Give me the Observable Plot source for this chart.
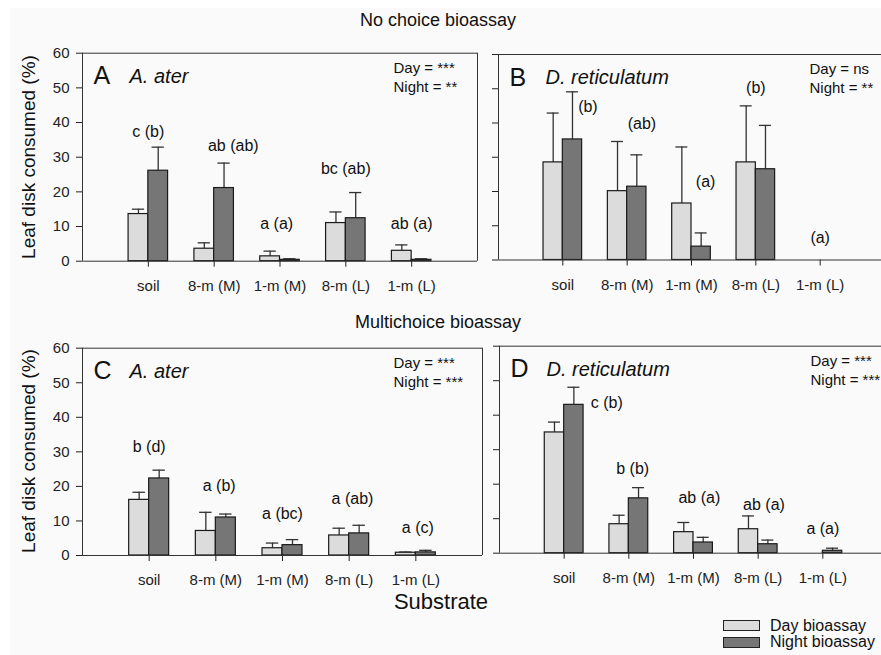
<!DOCTYPE html>
<html><head><meta charset="utf-8">
<script src="https://cdn.jsdelivr.net/npm/d3@7"></script>
<script src="https://cdn.jsdelivr.net/npm/@observablehq/plot@0.6"></script>
<style>
body{margin:0;background:#fff;font-family:"Liberation Sans",Arial,sans-serif;color:#111}
#wrap{position:relative;width:881px;height:655px;overflow:hidden;background:#fff}
#bg{position:absolute;left:10px;top:8px;right:0;bottom:0;background:#fafafa}
.layer{position:absolute;left:0;top:0;width:881px;height:655px}
.t{position:absolute;white-space:nowrap;transform:translate(-50%,-50%);line-height:1}
.yl{position:absolute;white-space:nowrap;transform:translate(-50%,-50%) rotate(-90deg);font-size:19px;line-height:1}
.sw{position:absolute;border:1px solid #222;box-sizing:border-box}
.lt{position:absolute;white-space:nowrap;font-size:16px;line-height:1;transform:translateY(-50%)}
</style></head><body>
<div id="wrap"><div id="bg"></div></div>
<script>
// ---------- data ----------
const substrates = ["soil", "8-m (M)", "1-m (M)", "8-m (L)", "1-m (L)"];
const yTicks = [0, 10, 20, 30, 40, 50, 60];
const seriesNames = ["Day bioassay", "Night bioassay"];

// Panel A: No choice, A. ater
const aDayMean   = [13.6, 3.6, 1.4, 11.0, 3.0];
const aDaySE     = [1.4, 1.7, 1.5, 3.2, 1.7];
const aNightMean = [26.1, 21.1, 0.4, 12.4, 0.4];
const aNightSE   = [6.8, 7.2, 0.3, 7.4, 0.3];
const aLetters   = ["c (b)", "ab (ab)", "a (a)", "bc (ab)", "ab (a)"];
const aLetterY   = [37.2, 33.4, 10.9, 26.7, 10.9];
const aLetterShift = [0, 0.29, -0.05, 0, 0];
const aStats = ["Day = ***", "Night = **"];

// Panel B: No choice, D. reticulatum
const bDayMean   = [28.5, 20.1, 16.5, 28.5, 0];
const bDaySE     = [14.4, 14.5, 16.5, 16.5, 0];
const bNightMean = [35.2, 21.4, 3.9, 26.5, 0];
const bNightSE   = [13.9, 9.3, 4.0, 12.8, 0];
const bLetters   = ["(b)", "(ab)", "(a)", "(b)", "(a)"];
const bLetterY   = [44.6, 39.7, 22.9, 50.4, 6.4];
const bLetterShift = [0.39, 0.23, 0.22, 0, 0];
const bStats = ["Day = ns", "Night = **"];

// Panel C: Multichoice, A. ater
const cDayMean   = [16.1, 7.1, 2.1, 5.8, 0.8];
const cDaySE     = [2.2, 5.4, 1.5, 2.1, 0.2];
const cNightMean = [22.3, 11.0, 3.0, 6.4, 0.9];
const cNightSE   = [2.4, 1.0, 1.6, 2.35, 0.6];
const cLetters   = ["b (d)", "a (b)", "a (bc)", "a (ab)", "a (c)"];
const cLetterY   = [31.4, 20.2, 12.0, 16.5, 7.9];
const cLetterShift = [0, 0.05, 0, 0.05, 0.03];
const cStats = ["Day = ***", "Night = ***"];

// Panel D: Multichoice, D. reticulatum
const dDayMean   = [35.0, 8.4, 6.1, 6.95, 0];
const dDaySE     = [3.0, 2.6, 2.8, 3.85, 0];
const dNightMean = [43.0, 15.9, 3.1, 2.6, 0.7];
const dNightSE   = [5.1, 3.1, 1.5, 1.2, 0.75];
const dLetters   = ["c (b)", "b (b)", "ab (a)", "ab (a)", "a (a)"];
const dLetterY   = [43.5, 24.3, 15.9, 14.1, 7.0];
const dLetterShift = [0.66, 0.06, 0.09, 0.09, 0];
const dStats = ["Day = ***", "Night = ***"];

// ---------- layout ----------
const W = 881, H = 655;
const colors = {day: "#dcdcdc", night: "#767676"};
const panels = [
  {id: "A", species: "A. ater", stats: aStats, dm: aDayMean, ds: aDaySE, nm: aNightMean, ns: aNightSE,
   letters: aLetters, ly: aLetterY, lsh: aLetterShift, left: 82, right: 477, top: 52.7, bottom: 260.7, yLab: true},
  {id: "B", species: "D. reticulatum", stats: bStats, dm: bDayMean, ds: bDaySE, nm: bNightMean, ns: bNightSE,
   letters: bLetters, ly: bLetterY, lsh: bLetterShift, left: 498, right: 884, top: 54, bottom: 259.5, yLab: false},
  {id: "C", species: "A. ater", stats: cStats, dm: cDayMean, ds: cDaySE, nm: cNightMean, ns: cNightSE,
   letters: cLetters, ly: cLetterY, lsh: cLetterShift, left: 82, right: 482, top: 347.7, bottom: 555, yLab: true},
  {id: "D", species: "D. reticulatum", stats: dStats, dm: dDayMean, ds: dDaySE, nm: dNightMean, ns: dNightSE,
   letters: dLetters, ly: dLetterY, lsh: dLetterShift, left: 499, right: 887, top: 345.7, bottom: 552.7, yLab: false}
];

const wrap = document.getElementById("wrap");
const BW = 0.3, CAP = 0.093;

for (const p of panels) {
  const rows = [];
  substrates.forEach((s, i) => {
    rows.push({i, series: "day", mean: p.dm[i], se: p.ds[i]});
    rows.push({i, series: "night", mean: p.nm[i], se: p.ns[i]});
  });
  const bars = rows.filter(d => d.mean > 0);
  const errs = rows.filter(d => d.se > 0);
  const cx = d => d.series === "day" ? d.i - BW / 2 : d.i + BW / 2;
  const labels = p.letters.map((t, i) => ({i, t, y: p.ly[i], sh: p.lsh[i]}));

  const chart = Plot.plot({
    width: W, height: H,
    marginLeft: p.left, marginRight: Math.max(0, W - p.right),
    marginTop: p.top, marginBottom: H - p.bottom,
    style: {background: "transparent", fontFamily: "'Liberation Sans', Arial, sans-serif", fontSize: "15px", color: "#222", overflow: "hidden"},
    x: {domain: [-1, 5], range: [p.left, p.right], ticks: [0, 1, 2, 3, 4], tickFormat: i => substrates[i], tickSize: 6, tickPadding: 13, label: null},
    y: {domain: [0, 60], ticks: yTicks, tickSize: 6, tickPadding: 7, tickFormat: p.yLab ? (d => d) : (() => ""), label: null},
    marks: [
      Plot.ruleX(errs, {x: cx, y1: d => d.mean, y2: d => d.mean + d.se, stroke: "#333", strokeWidth: 1.3}),
      Plot.ruleY(errs, {y: d => d.mean + d.se, x1: d => cx(d) - CAP, x2: d => cx(d) + CAP, stroke: "#333", strokeWidth: 1.3}),
      Plot.rect(bars, {x1: d => d.series === "day" ? d.i - BW : d.i, x2: d => d.series === "day" ? d.i : d.i + BW,
                       y1: 0, y2: d => d.mean, fill: d => colors[d.series], stroke: "#1a1a1a", strokeWidth: 1.2}),
      Plot.ruleY([0, 60], {x1: -1, x2: 5, stroke: "#333", strokeWidth: 1}),
      Plot.ruleX([-1, 5], {y1: 0, y2: 60, stroke: "#333", strokeWidth: 1}),
      Plot.text(labels, {x: d => d.i + d.sh, y: d => d.y, text: d => d.t, fontSize: 16, fill: "#111"}),
      Plot.text([p.id], {frameAnchor: "top-left", dx: 11, dy: 23, lineAnchor: "middle", textAnchor: "start", fontSize: 25, fill: "#111"}),
      Plot.text([p.species], {frameAnchor: "top-left", dx: 47, dy: 23, lineAnchor: "middle", textAnchor: "start", fontSize: 20, fontStyle: "italic", fill: "#111"}),
      Plot.text([p.stats[0]], {frameAnchor: "top-left", dx: 311, dy: 15, lineAnchor: "middle", textAnchor: "start", fontSize: 15, fill: "#111"}),
      Plot.text([p.stats[1]], {frameAnchor: "top-left", dx: 311, dy: 34, lineAnchor: "middle", textAnchor: "start", fontSize: 15, fill: "#111"})
    ]
  });
  const layer = document.createElement("div");
  layer.className = "layer";
  layer.appendChild(chart);
  wrap.appendChild(layer);
}

// ---------- HTML text & legend ----------
function addText(txt, x, y, size, cls = "t") {
  const el = document.createElement("div");
  el.className = cls;
  el.textContent = txt;
  el.style.left = x + "px"; el.style.top = y + "px";
  if (size) el.style.fontSize = size + "px";
  wrap.appendChild(el);
  return el;
}
addText("No choice bioassay", 438, 20, 18);
addText("Multichoice bioassay", 438, 322, 18);
addText("Substrate", 441, 602, 22);
addText("Leaf disk consumed (%)", 28, (panels[0].top + panels[0].bottom) / 2, null, "yl");
addText("Leaf disk consumed (%)", 28, (panels[2].top + panels[2].bottom) / 2, null, "yl");

[[seriesNames[0], colors.day, 620, 626], [seriesNames[1], colors.night, 637, 642]].forEach(([name, col, by, ty]) => {
  const sw = document.createElement("div");
  sw.className = "sw";
  Object.assign(sw.style, {left: "723px", top: by + "px", width: "37px", height: "11px", background: col});
  wrap.appendChild(sw);
  const lt = document.createElement("div");
  lt.className = "lt"; lt.textContent = name;
  Object.assign(lt.style, {left: "770px", top: ty + "px"});
  wrap.appendChild(lt);
});
</script>
</body></html>
